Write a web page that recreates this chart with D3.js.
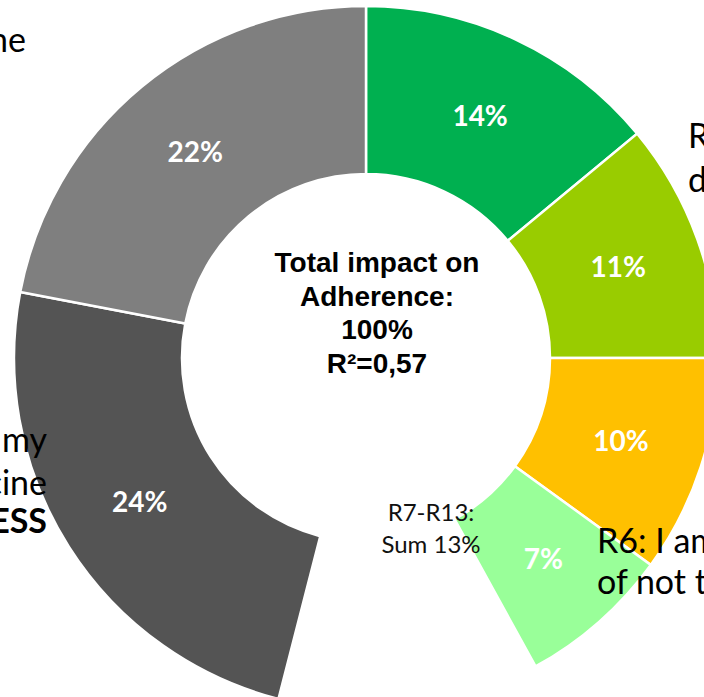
<!DOCTYPE html>
<html lang="en">

<head>
    <meta charset="UTF-8">
    <title>Total impact on adherence - donut</title>
    <style>
        body { margin: 0; background: #fff; }
    </style>
</head>

<body>
    <script type="text/javascript" src="https://cdn.jsdelivr.net/npm/d3@7"></script>
    <script type="text/javascript">
    // slices clockwise from 12 o'clock; the blank one is the unshown part of R7-R13
    var categories = ["s1", "s2", "s3", "s4", "blank", "s5", "s6"],
        values = [14, 11, 10, 7, 12, 24, 22],
        colors = ["#00B050", "#99CC00", "#FFC000", "#99FF99", "none", "#545454", "#7F7F7F"],
        centerLines = ["Total impact on", "Adherence:", "100%", "R\u00B2=0,57"];

    var w = 704,
        h = 697,
        cx = 366,
        cy = 358,
        outerR = 352,
        innerR = 184;

    var svg = d3.select("body")
        .append("svg")
        .attr("width", w)
        .attr("height", h);

    var pie = d3.pie()
        .sort(null)
        .value(function(d) { return d; });

    var arc = d3.arc()
        .innerRadius(innerR)
        .outerRadius(outerR);

    var arcs = pie(values);

    var g = svg.append("g")
        .attr("transform", "translate(" + cx + "," + cy + ")");

    g.selectAll("path")
        .data(arcs)
        .enter()
        .append("path")
        .attr("d", arc)
        .attr("fill", function(d, i) { return colors[i]; })
        .attr("stroke", function(d, i) { return colors[i] == "none" ? "none" : "#fff"; })
        .attr("stroke-width", 2.5);

    g.selectAll("text.pct")
        .data(arcs.filter(function(d, i) { return categories[i] != "blank"; }))
        .enter()
        .append("text")
        .attr("class", "pct")
        .text(function(d) { return d.data + "%"; })
        .attr("transform", function(d) {
            var c = arc.centroid(d);
            return "translate(" + c[0] + "," + c[1] + ")";
        })
        .attr("text-anchor", "middle")
        .attr("dy", "0.36em")
        .attr("font-family", "Lato, sans-serif")
        .attr("font-weight", "bold")
        .attr("font-size", "28px")
        .attr("fill", "white");

    // centre text
    svg.selectAll("text.center")
        .data(centerLines)
        .enter()
        .append("text")
        .attr("class", "center")
        .text(function(d) { return d; })
        .attr("x", 377)
        .attr("y", function(d, i) { return 272 + i * 33.5; })
        .attr("text-anchor", "middle")
        .attr("font-family", "'Liberation Sans', Arial, sans-serif")
        .attr("font-weight", "bold")
        .attr("font-size", "28px")
        .attr("fill", "black");

    // small label in the blank gap
    var gapLabel = svg.append("text")
        .attr("x", 431)
        .attr("text-anchor", "middle")
        .attr("font-family", "Lato, sans-serif")
        .attr("font-size", "24px")
        .attr("fill", "#111");
    gapLabel.append("tspan").attr("x", 431).attr("y", 521).text("R7-R13:");
    gapLabel.append("tspan").attr("x", 431).attr("y", 553).text("Sum 13%");

    // legend texts that run off the picture edges
    var side = [
        { t: "ne", x: 26, y: 52, a: "end", b: false },
        { t: "my", x: 47, y: 452, a: "end", b: false },
        { t: "medicine", x: 47, y: 495, a: "end", b: false },
        { t: "ESS", x: 47, y: 533, a: "end", b: true },
        { t: "R", x: 688, y: 148, a: "start", b: false },
        { t: "d", x: 688, y: 192, a: "start", b: false },
        { t: "R6: I am", x: 597, y: 553, a: "start", b: false },
        { t: "of not t", x: 597, y: 594, a: "start", b: false }
    ];

    svg.selectAll("text.side")
        .data(side)
        .enter()
        .append("text")
        .attr("class", "side")
        .text(function(d) { return d.t; })
        .attr("x", function(d) { return d.x; })
        .attr("y", function(d) { return d.y; })
        .attr("text-anchor", function(d) { return d.a; })
        .attr("font-family", "Lato, sans-serif")
        .attr("font-weight", function(d) { return d.b ? "bold" : "normal"; })
        .attr("font-size", "34px")
        .attr("fill", "black");
    </script>
</body>

</html>
